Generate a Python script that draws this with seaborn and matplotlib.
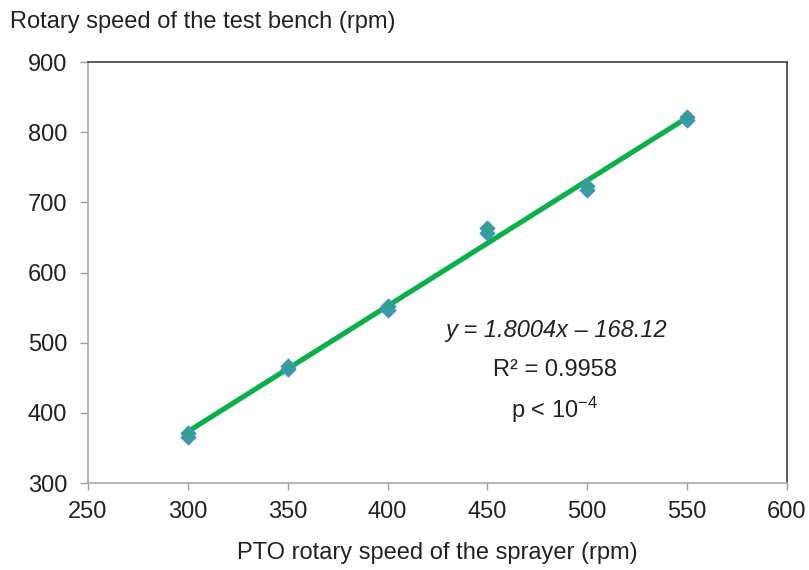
import matplotlib
matplotlib.use("Agg")
import matplotlib.pyplot as plt
import seaborn as sns
import pandas as pd

pto_speed = [300, 300, 350, 350, 400, 400, 450, 450, 500, 500, 550, 550]
bench_speed = [366, 371, 462, 467, 547, 552, 657, 663, 717, 723, 817, 822]
x_ticks = [250, 300, 350, 400, 450, 500, 550, 600]
y_ticks = [300, 400, 500, 600, 700, 800, 900]

df = pd.DataFrame({"pto": pto_speed, "bench": bench_speed})

sns.set_style("white")
plt.rcParams['font.family'] = ['Liberation Sans', 'DejaVu Sans']
plt.rcParams['mathtext.fontset'] = 'custom'
plt.rcParams['mathtext.rm'] = 'Liberation Sans'
plt.rcParams['mathtext.it'] = 'Liberation Sans:italic'

fig = plt.figure(figsize=(8.09, 5.70), dpi=100)
ax = fig.add_axes([0.1088, 0.1526, 0.864, 0.7386])

sns.regplot(data=df, x="pto", y="bench", ax=ax, scatter=False, ci=None,
            truncate=True, line_kws=dict(color="#0BB04B", lw=3.7, zorder=2))
sns.scatterplot(data=df, x="pto", y="bench", ax=ax, marker="D", s=55,
                color="#2EA38A", edgecolor="#4A90D0", linewidth=1.0, zorder=3)

ax.set_xlim(250, 600)
ax.set_ylim(300, 900)
ax.set_xticks(x_ticks)
ax.set_yticks(y_ticks)
ax.tick_params(axis="both", labelsize=17, width=1, color="#A0A0A0",
               direction="out", bottom=True, left=True, labelcolor="#222222")
ax.tick_params(axis="x", length=5, pad=8)
ax.tick_params(axis="y", length=6, pad=9)
ax.set_xlabel("")
ax.set_ylabel("")
for s in ["left", "bottom"]:
    ax.spines[s].set_color("#A8A8A8")
    ax.spines[s].set_linewidth(1.2)
for s in ["top", "right"]:
    ax.spines[s].set_color("#404040")
    ax.spines[s].set_linewidth(1.2)

fig.text(10 / 809, 1 - 22 / 570, "Rotary speed of the test bench (rpm)", fontsize=17,
         ha="left", va="center", color="#222222")
fig.text(437 / 809, 1 - 553 / 570, "PTO rotary speed of the sprayer (rpm)", fontsize=17,
         ha="center", va="center", color="#222222")

ax.text(0.67, 0.363, "y = 1.8004x \u2013 168.12", transform=ax.transAxes, fontsize=17,
        style="italic", ha="center", va="center", color="#222222")
ax.text(0.668, 0.268, "R\u00b2 = 0.9958", transform=ax.transAxes, fontsize=17,
        ha="center", va="center", color="#222222")
ax.text(0.668, 0.173, r"p < 10$^{\mathregular{-4}}$", transform=ax.transAxes, fontsize=17,
        ha="center", va="center", color="#222222")

fig.savefig("out.png", dpi=100)
